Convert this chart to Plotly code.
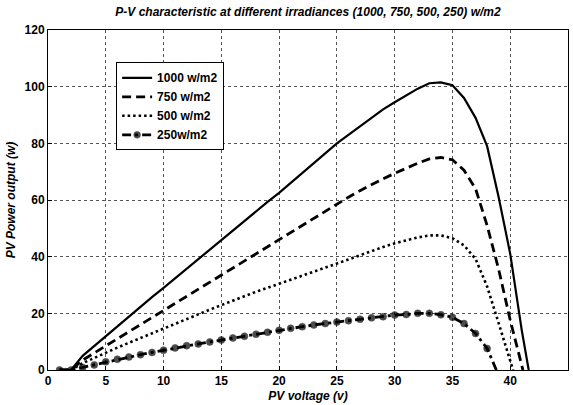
import plotly.graph_objects as go

# Data
v_1000 = [1, 2, 3, 4, 5, 6, 7, 8, 9, 10, 11, 12, 13, 14, 15, 16, 17, 18, 19, 20,
          21, 22, 23, 24, 25, 26, 27, 28, 29, 30, 31, 32, 33, 34, 35, 36, 37, 38, 39, 40, 41, 41.6]
p_1000 = [0, 0, 5, 8.5, 12, 15.5, 19, 22.3, 25.7, 29, 32.4, 35.8, 39.2, 42.6, 46, 49.4, 52.8, 56, 59.3, 62.5,
          66, 69.5, 73, 76.5, 80, 83, 86, 89, 92, 94.5, 97, 99.3, 101.2, 101.5, 100.5, 96, 89, 79, 61, 41, 14, 0]

v_750 = [1, 2, 3, 4, 5, 6, 7, 8, 9, 10, 11, 12, 13, 14, 15, 16, 17, 18, 19, 20,
         21, 22, 23, 24, 25, 26, 27, 28, 29, 30, 31, 32, 33, 34, 35, 36, 37, 38, 39, 40, 41.1]
p_750 = [0, 0, 3.5, 6, 8.5, 11, 13.6, 16.1, 18.7, 21.2, 23.7, 26.2, 28.7, 31.2, 33.7, 36.2, 38.8, 41.2, 43.6, 46,
         48.5, 51, 53.5, 56, 58.5, 61, 63.3, 65.5, 67.5, 69.4, 71.3, 73, 74.5, 75, 74.2, 70.5, 64, 51, 35.5, 17.6, 0]

v_500 = [1, 2, 3, 4, 5, 6, 7, 8, 9, 10, 11, 12, 13, 14, 15, 16, 17, 18, 19, 20,
         21, 22, 23, 24, 25, 26, 27, 28, 29, 30, 31, 32, 33, 34, 35, 36, 37, 38, 39, 40, 40.25]
p_500 = [0, 0, 2.4, 4.3, 6.1, 7.9, 9.6, 11.3, 13, 14.7, 16.4, 18, 19.7, 21.3, 22.9, 24.5, 26.1, 27.6, 29, 30.4,
         31.9, 33.3, 34.8, 36.2, 37.6, 39, 40.5, 42, 43.4, 44.7, 45.8, 46.8, 47.5, 47.5, 46.5, 44, 39.2, 29.5, 16.5, 3.5, 0]

v_250 = [1, 2, 3, 4, 5, 6, 7, 8, 9, 10, 11, 12, 13, 14, 15, 16, 17, 18, 19, 20,
         21, 22, 23, 24, 25, 26, 27, 28, 29, 30, 31, 32, 33, 34, 35, 36, 37, 38, 38.8]
p_250 = [0, 0, 0.9, 1.8, 2.9, 3.8, 4.6, 5.4, 6.2, 7, 7.8, 8.6, 9.2, 9.9, 10.6, 11.3, 11.9, 12.6, 13.3, 14,
         14.7, 15.3, 15.9, 16.4, 16.9, 17.4, 17.9, 18.4, 18.8, 19.4, 19.6, 20, 20, 19.5, 18.6, 16.4, 12.9, 7.6, 0]

names = ["1000 w/m2", "750 w/m2", "500 w/m2", "250w/m2"]
x_ticks = [0, 5, 10, 15, 20, 25, 30, 35, 40, 45]
y_ticks = [0, 20, 40, 60, 80, 100, 120]

fig = go.Figure()
fig.add_trace(go.Scatter(x=v_1000, y=p_1000, mode="lines", name=names[0],
                         line=dict(color="black", width=2.2, dash="solid")))
fig.add_trace(go.Scatter(x=v_750, y=p_750, mode="lines", name=names[1],
                         line=dict(color="black", width=2.8, dash="9px,5px")))
fig.add_trace(go.Scatter(x=v_500, y=p_500, mode="lines", name=names[2],
                         line=dict(color="black", width=2.6, dash="2.5px,3px")))
msizes = [7] * (len(v_250) - 1) + [0]
fig.add_trace(go.Scatter(x=v_250, y=p_250, mode="lines+markers", name=names[3],
                         line=dict(color="black", width=2.8, dash="9px,4px,3px,4px"),
                         marker=dict(color="black", size=msizes, symbol="circle",
                                     line=dict(color="black", width=0.5))))

axis_font = dict(family="Liberation Sans, Arial, sans-serif", size=12, color="black", weight="bold")
title_font = dict(family="Liberation Sans, Arial, sans-serif", size=12, color="black",
                  weight="bold", style="italic")

fig.update_layout(
    width=573, height=405,
    margin=dict(l=48, r=5, t=30, b=35),
    paper_bgcolor="white", plot_bgcolor="white",
    title=dict(text="P-V characteristic at different irradiances (1000, 750, 500, 250) w/m2",
               x=(48 + 568) / 2 / 573, xanchor="center", y=1 - 12 / 405, yanchor="middle",
               font=dict(family="Liberation Sans, Arial, sans-serif", size=12, color="black",
                         weight="bold", style="italic")),
    showlegend=True,
    legend=dict(x=0.131, y=0.905, xanchor="left", yanchor="top",
                bgcolor="white", bordercolor="black", borderwidth=1,
                font=dict(family="Liberation Sans, Arial, sans-serif", size=12, color="black", weight="bold"),
                tracegroupgap=0, itemwidth=30),
    xaxis=dict(range=[0, 45], tickvals=x_ticks, ticktext=[str(t) for t in x_ticks],
               showgrid=True, gridcolor="#555555", griddash="dot", gridwidth=1,
               showline=True, linecolor="black", linewidth=1, mirror=True,
               ticks="inside", ticklen=4, tickcolor="black", zeroline=False,
               tickfont=axis_font,
               title=dict(text="PV voltage (v)", font=title_font, standoff=4)),
    yaxis=dict(range=[0, 120], tickvals=y_ticks, ticktext=[str(t) for t in y_ticks],
               showgrid=True, gridcolor="#555555", griddash="dot", gridwidth=1,
               showline=True, linecolor="black", linewidth=1, mirror=True,
               ticks="inside", ticklen=4, tickcolor="black", zeroline=False,
               tickfont=axis_font,
               title=dict(text="PV Power output (w)", font=title_font, standoff=6)),
)

fig.write_html("out.html")
